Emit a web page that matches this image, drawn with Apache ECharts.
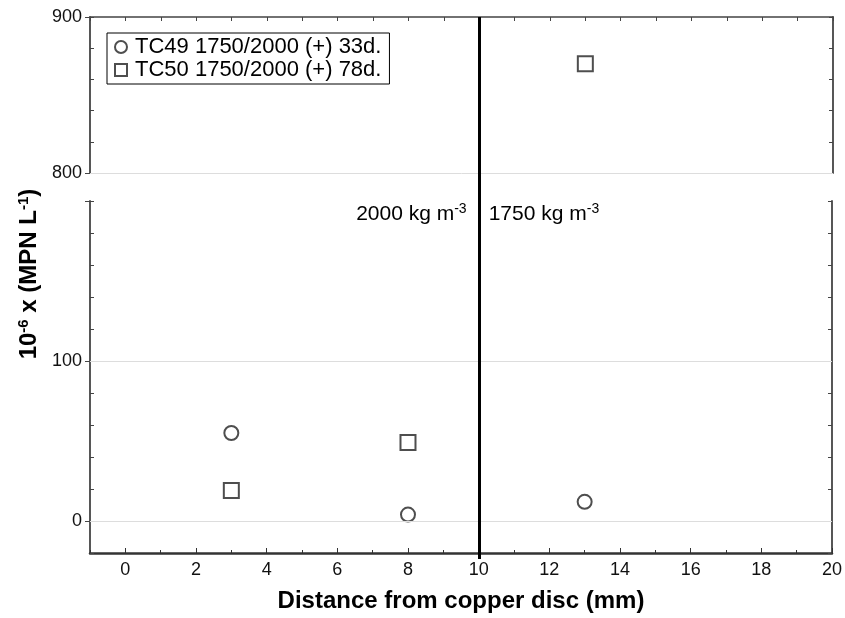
<!DOCTYPE html>
<html>
<head>
<meta charset="utf-8">
<script src="https://cdn.jsdelivr.net/npm/echarts@6/dist/echarts.min.js"></script>
<style>
  html, body { margin: 0; padding: 0; background: #fff; }
  #chart { width: 845px; height: 618px; }
</style>
</head>
<body>
<div id="chart"></div>
<script>
// distance from copper disc (mm)
const tc49X = [3, 8, 13]
const tc49Y = [55, 4, 12]
const tc50X = [3, 8, 13]
const tc50Y = [19, 49, 870]

const seriesNames = ['TC49 1750/2000 (+) 33d.', 'TC50 1750/2000 (+) 78d.']
const xTickLabels = [0, 2, 4, 6, 8, 10, 12, 14, 16, 18, 20]
const xMinorTicks = [-1, 1, 3, 5, 7, 9, 11, 13, 15, 17, 19]
const lowerLabels = [0, 100]
const upperLabels = [800, 900]
const boundaryX = 10
const BREAK = 700 // values above go to the upper panel

const FONT = 'Liberation Sans, Arial, sans-serif'
const AX = '#444'

function pts (xs, ys, upper) {
  const out = []
  xs.forEach((x, i) => {
    if ((ys[i] > BREAK) === upper) out.push([x, ys[i]])
  })
  return out
}

const markerStyle = { color: '#fff', borderColor: '#222', borderWidth: 2 }

const hiddenAxis = {
  axisLine: { show: false }, axisTick: { show: false },
  axisLabel: { show: false }, splitLine: { show: false }
}
const line = (color, width) => ({ onZero: false, lineStyle: { color, width } })

const chart = echarts.init(document.getElementById('chart'))

chart.setOption({
  animation: false,
  textStyle: { fontFamily: FONT },
  grid: [
    { left: 90, right: 12, top: 17, height: 156 },
    { left: 90, right: 12, top: 201, height: 358 },
    { left: 90, right: 12, top: 17, height: 542 }
  ],
  legend: {
    left: 107, top: 33,
    orient: 'vertical',
    data: seriesNames,
    itemWidth: 12, itemHeight: 12, itemGap: 1,
    padding: [3, 8, 3, 7],
    borderColor: '#000', borderWidth: 1,
    textStyle: { fontSize: 22, color: '#000', fontFamily: FONT, padding: [0, 0, 0, 3] }
  },
  xAxis: [
    { gridIndex: 0, type: 'value', position: 'top', min: -1, max: 20, interval: 1,
      axisLine: line(AX, 1.5),
      axisTick: { inside: true, length: 4, lineStyle: { color: AX } },
      axisLabel: { show: false }, splitLine: { show: false } },
    { gridIndex: 1, type: 'value', position: 'bottom', min: -1, max: 20,
      name: 'Distance from copper disc (mm)', nameLocation: 'middle', nameGap: 36,
      nameTextStyle: { fontSize: 24, fontWeight: 'bold', color: '#000', fontFamily: FONT },
      axisLine: line('#333', 2.5),
      axisTick: { inside: true, length: 5, customValues: xTickLabels, lineStyle: { color: '#333' } },
      axisLabel: { customValues: xTickLabels, fontSize: 18, color: '#111', margin: 8 },
      splitLine: { show: false } },
    { gridIndex: 1, type: 'value', position: 'bottom', min: -1, max: 20,
      axisLine: { show: false, onZero: false },
      axisTick: { inside: true, length: 3, customValues: xMinorTicks, lineStyle: { color: '#333' } },
      axisLabel: { show: false }, splitLine: { show: false } },
    Object.assign({ gridIndex: 2, type: 'value', min: -1, max: 20 }, hiddenAxis)
  ],
  yAxis: [
    // upper panel
    { gridIndex: 0, type: 'value', position: 'left', min: 800, max: 900, interval: 20,
      axisLine: line(AX, 1.8),
      axisTick: { inside: false, length: 5, customValues: upperLabels, lineStyle: { color: AX } },
      axisLabel: { customValues: upperLabels, fontSize: 18, color: '#111', margin: 8 },
      splitLine: { show: false } },
    { gridIndex: 0, type: 'value', position: 'left', min: 800, max: 900, interval: 20,
      axisLine: { show: false, onZero: false },
      axisTick: { inside: true, length: 4, lineStyle: { color: AX } },
      axisLabel: { show: false }, splitLine: { show: false } },
    { gridIndex: 0, type: 'value', position: 'right', min: 800, max: 900, interval: 20,
      axisLine: line(AX, 1.8),
      axisTick: { inside: true, length: 4, lineStyle: { color: AX } },
      axisLabel: { show: false }, splitLine: { show: false } },
    // lower panel
    { gridIndex: 1, type: 'value', position: 'left', min: -20, max: 200, interval: 20,
      axisLine: line(AX, 1.8),
      axisTick: { inside: false, length: 5, customValues: [0, 100, 200], lineStyle: { color: AX } },
      axisLabel: { customValues: lowerLabels, fontSize: 18, color: '#111', margin: 8 },
      splitLine: { show: false } },
    { gridIndex: 1, type: 'value', position: 'left', min: -20, max: 200, interval: 20,
      axisLine: { show: false, onZero: false },
      axisTick: { inside: true, length: 4, lineStyle: { color: AX } },
      axisLabel: { show: false }, splitLine: { show: false } },
    { gridIndex: 1, type: 'value', position: 'right', min: -20, max: 200, interval: 20,
      axisLine: line(AX, 1.8),
      axisTick: { inside: true, length: 4, lineStyle: { color: AX } },
      axisLabel: { show: false }, splitLine: { show: false } },
    Object.assign({ gridIndex: 2, type: 'value', min: 0, max: 1 }, hiddenAxis)
  ],
  graphic: [
    {
      type: 'text', x: 29, y: 274, rotation: Math.PI / 2,
      style: {
        text: '{b|10}{s|-6}{b| x (MPN L}{s|-1}{b|)}',
        align: 'center', verticalAlign: 'middle',
        rich: {
          b: { fontSize: 24, fontWeight: 'bold', fontFamily: FONT, fill: '#000', lineHeight: 26 },
          s: { fontSize: 15, fontWeight: 'bold', fontFamily: FONT, fill: '#000', verticalAlign: 'top', lineHeight: 26 }
        }
      }
    }
  ],
  series: [
    { name: seriesNames[0], type: 'scatter', xAxisIndex: 1, yAxisIndex: 3,
      symbol: 'circle', symbolSize: 14, itemStyle: markerStyle,
      data: pts(tc49X, tc49Y, false),
      markLine: {
        silent: true, symbol: 'none', label: { show: false },
        lineStyle: { color: '#ddd', width: 1, type: 'solid' },
        data: lowerLabels.map(v => ({ yAxis: v }))
      },
      markPoint: {
        silent: true, symbol: 'circle', symbolSize: 0,
        label: {
          show: true, fontSize: 21, color: '#000',
          rich: {
            n: { fontSize: 21, fontFamily: FONT, color: '#000', lineHeight: 24 },
            s: { fontSize: 14, fontFamily: FONT, color: '#000', verticalAlign: 'top', lineHeight: 24 }
          }
        },
        data: [
          { coord: [boundaryX, 192], label: { position: 'left', distance: 12, formatter: '{n|2000 kg m}{s|-3}' } },
          { coord: [boundaryX, 192], label: { position: 'right', distance: 10, formatter: '{n|1750 kg m}{s|-3}' } }
        ]
      } },
    { name: seriesNames[1], type: 'scatter', xAxisIndex: 1, yAxisIndex: 3,
      symbol: 'rect', symbolSize: 15, itemStyle: markerStyle,
      data: pts(tc50X, tc50Y, false) },
    { name: seriesNames[1], type: 'scatter', xAxisIndex: 0, yAxisIndex: 0,
      symbol: 'rect', symbolSize: 15, itemStyle: markerStyle,
      data: pts(tc50X, tc50Y, true),
      markLine: {
        silent: true, symbol: 'none', label: { show: false },
        lineStyle: { color: '#ddd', width: 1, type: 'solid' },
        data: [{ yAxis: upperLabels[0] }]
      } },
    { name: 'boundary', type: 'scatter', xAxisIndex: 3, yAxisIndex: 6, data: [],
      markLine: {
        silent: true, symbol: 'none', label: { show: false },
        lineStyle: { color: '#000', width: 3, type: 'solid' },
        data: [{ xAxis: boundaryX }]
      } }
  ]
})
</script>
</body>
</html>
